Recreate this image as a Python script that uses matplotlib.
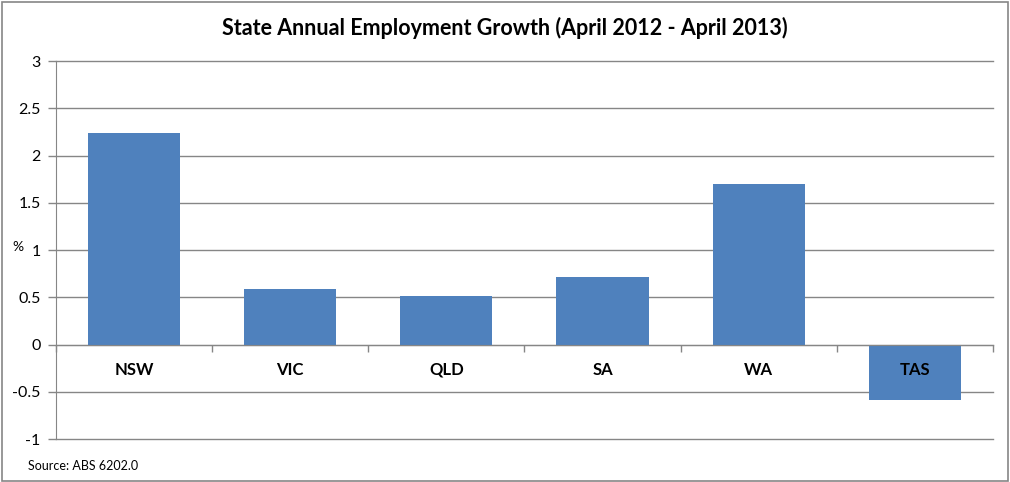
import numpy as np
import matplotlib.pyplot as plt
from matplotlib.patches import Rectangle

# ------ Data ------
states = ["NSW", "VIC", "QLD", "SA", "WA", "TAS"]
growth = [2.24, 0.585, 0.51, 0.71, 1.70, -0.585]
yticks = [-1, -0.5, 0, 0.5, 1, 1.5, 2, 2.5, 3]
ytick_labels = ["-1", "-0.5", "0", "0.5", "1", "1.5", "2", "2.5", "3"]

# ------ Style ------
plt.rcParams["font.family"] = ["Lato", "DejaVu Sans"]
GRID = "#868686"
BAR = "#4F81BD"

fig = plt.figure(figsize=(10.1, 4.82), dpi=100)
fig.add_artist(Rectangle((0.002, 0.003), 0.996, 0.993, transform=fig.transFigure,
                         fill=False, edgecolor=GRID, linewidth=1.2))

ax = fig.add_axes([0.0554, 0.0892, 0.9277, 0.7842])
x = np.arange(len(states))
ax.bar(x, growth, width=0.59, color=BAR, zorder=3)

ax.set_xlim(-0.5, len(states) - 0.5)
ax.set_ylim(-1, 3)
ax.set_yticks(yticks)
ax.set_yticklabels(ytick_labels, fontsize=11.5)
ax.yaxis.grid(True, color=GRID, linewidth=1)
for gl in ax.get_ygridlines():
    gl.set_clip_on(False)
ax.set_axisbelow(True)
ax.tick_params(axis="y", length=6, color=GRID, width=1, pad=5)

for s in ["top", "right"]:
    ax.spines[s].set_visible(False)
ax.spines["left"].set_color(GRID)
ax.spines["bottom"].set_color(GRID)
ax.spines["bottom"].set_position(("data", 0))
ax.spines["bottom"].set_zorder(4)

# category boundary ticks
ax.set_xticks(np.arange(len(states) + 1) - 0.5)
ax.set_xticklabels([])
ax.tick_params(axis="x", which="major", length=5, color=GRID, width=1, direction="out")

# category labels sit just under the zero line (over the bar for TAS)
for i, name in enumerate(states):
    ax.annotate(name, xy=(x[i], 0), xytext=(0, -18), textcoords="offset points",
                ha="center", va="center", fontsize=12, fontweight="bold", zorder=5)

fig.text(0.5, 0.942, "State Annual Employment Growth (April 2012 - April 2013)",
         ha="center", va="center", fontsize=15.5, fontweight="bold")
fig.text(0.012, 0.488, "%", ha="left", va="center", fontsize=10)
fig.text(0.028, 0.033, "Source: ABS 6202.0", ha="left", va="center", fontsize=9)

fig.savefig("out.png", dpi=100)
